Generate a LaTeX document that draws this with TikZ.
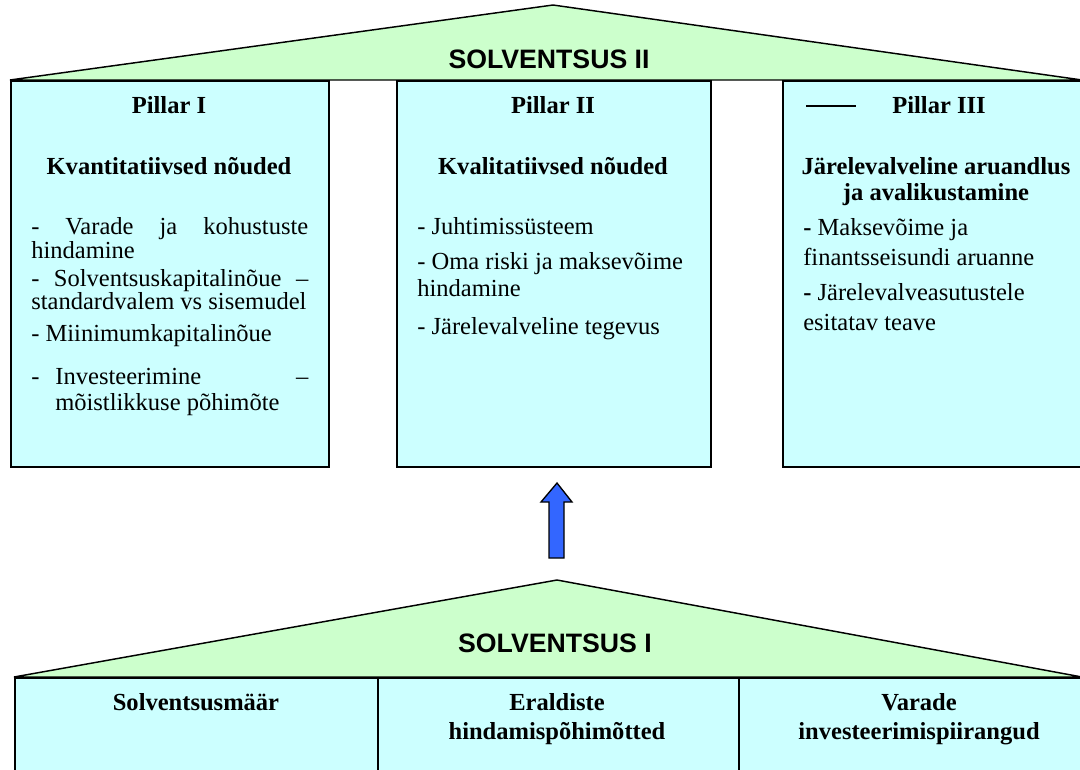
\documentclass[tikz,border=0pt]{standalone}
\usepackage{fontspec}
\setmainfont{Liberation Serif}
\newfontfamily\titlefont{Liberation Sans}
\definecolor{roofgreen}{HTML}{CCFFCC}
\definecolor{boxcyan}{HTML}{CCFFFF}
\definecolor{arrowblue}{HTML}{3366FF}
\newcommand\bodyfont{\fontsize{18.4}{22}\selectfont}
\tikzset{
  roof/.style={fill=roofgreen, draw=black, line width=1.1pt, line join=miter},
  pillar/.style={fill=boxcyan, draw=black, line width=1.4pt, rectangle, anchor=north west, inner sep=0pt},
  heading/.style={font=\bodyfont\bfseries, anchor=base, inner sep=0pt},
  bodytext/.style={font=\bodyfont, anchor=base west, inner sep=0pt},
  titletext/.style={font=\titlefont\fontsize{20}{24}\selectfont\bfseries, anchor=base, inner sep=0pt},
  blockarrow/.style={fill=arrowblue, draw=black, line width=1pt, line join=miter},
}
\begin{document}
\begin{tikzpicture}[x=0.75pt, y=-0.75pt]
\clip (0,0) rectangle (1080,769);
\fill[white] (0,0) rectangle (1080,769);

% ---------- Solvency II roof ----------
\coordinate (r2l) at (10,80);
\coordinate (r2t) at (553,5);
\coordinate (r2r) at (1082,80);
\filldraw[roof] (r2l) -- (r2t) -- (r2r) -- cycle;
\node[titletext] (s2) at (549,68) {SOLVENTSUS II};

% ---------- Pillars ----------
\node[pillar, minimum width=318*0.75pt, minimum height=386*0.75pt] (p1) at (10,80) {};
\node[pillar, minimum width=314*0.75pt, minimum height=386*0.75pt] (p2) at (396,80) {};
\node[pillar, minimum width=320*0.75pt, minimum height=386*0.75pt] (p3) at (782,80) {};

% Pillar I
\node[heading] (p1h) at (169,113) {Pillar I};
\node[heading] (p1s) at (169,174) {Kvantitatiivsed nõuded};
\node[bodytext] (p1a) at (31,234) {\hbox to 207.75pt{-\hfill Varade\hfill ja\hfill kohustuste}};
\node[bodytext] (p1b) at (31,258) {hindamine};
\node[bodytext] (p1c) at (31,286) {\hbox to 207.75pt{-\hfill Solventsuskapitalinõue\hfill –}};
\node[bodytext] (p1d) at (31,309) {standardvalem vs sisemudel};
\node[bodytext] (p1e) at (31,341) {- Miinimumkapitalinõue};
\node[bodytext] (p1f) at (31,384) {\hbox to 207.75pt{-\hspace{12pt}Investeerimine\hfill –}};
\node[bodytext] (p1g) at (55,410) {mõistlikkuse põhimõte};

% Pillar II
\node[heading] (p2h) at (553,113) {Pillar II};
\node[heading] (p2s) at (553,174) {Kvalitatiivsed nõuded};
\node[bodytext] (p2a) at (417,234) {- Juhtimissüsteem};
\node[bodytext] (p2b) at (417,269) {- Oma riski ja maksevõime};
\node[bodytext] (p2c) at (417,296) {hindamine};
\node[bodytext] (p2d) at (417,334) {- Järelevalveline tegevus};

% Pillar III
\coordinate (dashL) at (806,106);
\coordinate (dashR) at (856,106);
\draw[line width=1.1pt] (dashL) -- (dashR);
\node[heading] (p3h) at (939,113) {Pillar III};
\node[heading] (p3s) at (936,174) {Järelevalveline aruandlus};
\node[heading] (p3t) at (936,200) {ja avalikustamine};
\node[bodytext] (p3a) at (803,235) {\textbf{-} Maksevõime ja};
\node[bodytext] (p3b) at (803,265) {finantsseisundi aruanne};
\node[bodytext] (p3c) at (803,300) {\textbf{-} Järelevalveasutustele};
\node[bodytext] (p3d) at (803,330) {esitatav teave};

% ---------- Arrow ----------
\filldraw[blockarrow] (549,558) -- (549,502) -- (541,502) -- (557,483) -- (572,502) -- (564,502) -- (564,558) -- cycle;

% ---------- Solvency I roof ----------
\coordinate (r1l) at (14,677);
\coordinate (r1t) at (557,580);
\coordinate (r1r) at (1082,677);
\filldraw[roof] (r1l) -- (r1t) -- (r1r) -- cycle;
\node[titletext] (s1) at (555,652) {SOLVENTSUS I};

\node[pillar, minimum width=363*0.75pt, minimum height=120*0.75pt] (b1) at (14,677) {};
\node[pillar, minimum width=361*0.75pt, minimum height=120*0.75pt] (b2) at (377,677) {};
\node[pillar, minimum width=360*0.75pt, minimum height=120*0.75pt] (b3) at (738,677) {};

\node[heading] (b1h) at (196,710) {Solventsusmäär};
\node[heading] (b2h) at (557,710) {Eraldiste};
\node[heading] (b2t) at (557,739) {hindamispõhimõtted};
\node[heading] (b3h) at (919,710) {Varade};
\node[heading] (b3t) at (919,739) {investeerimispiirangud};
\end{tikzpicture}
\end{document}
